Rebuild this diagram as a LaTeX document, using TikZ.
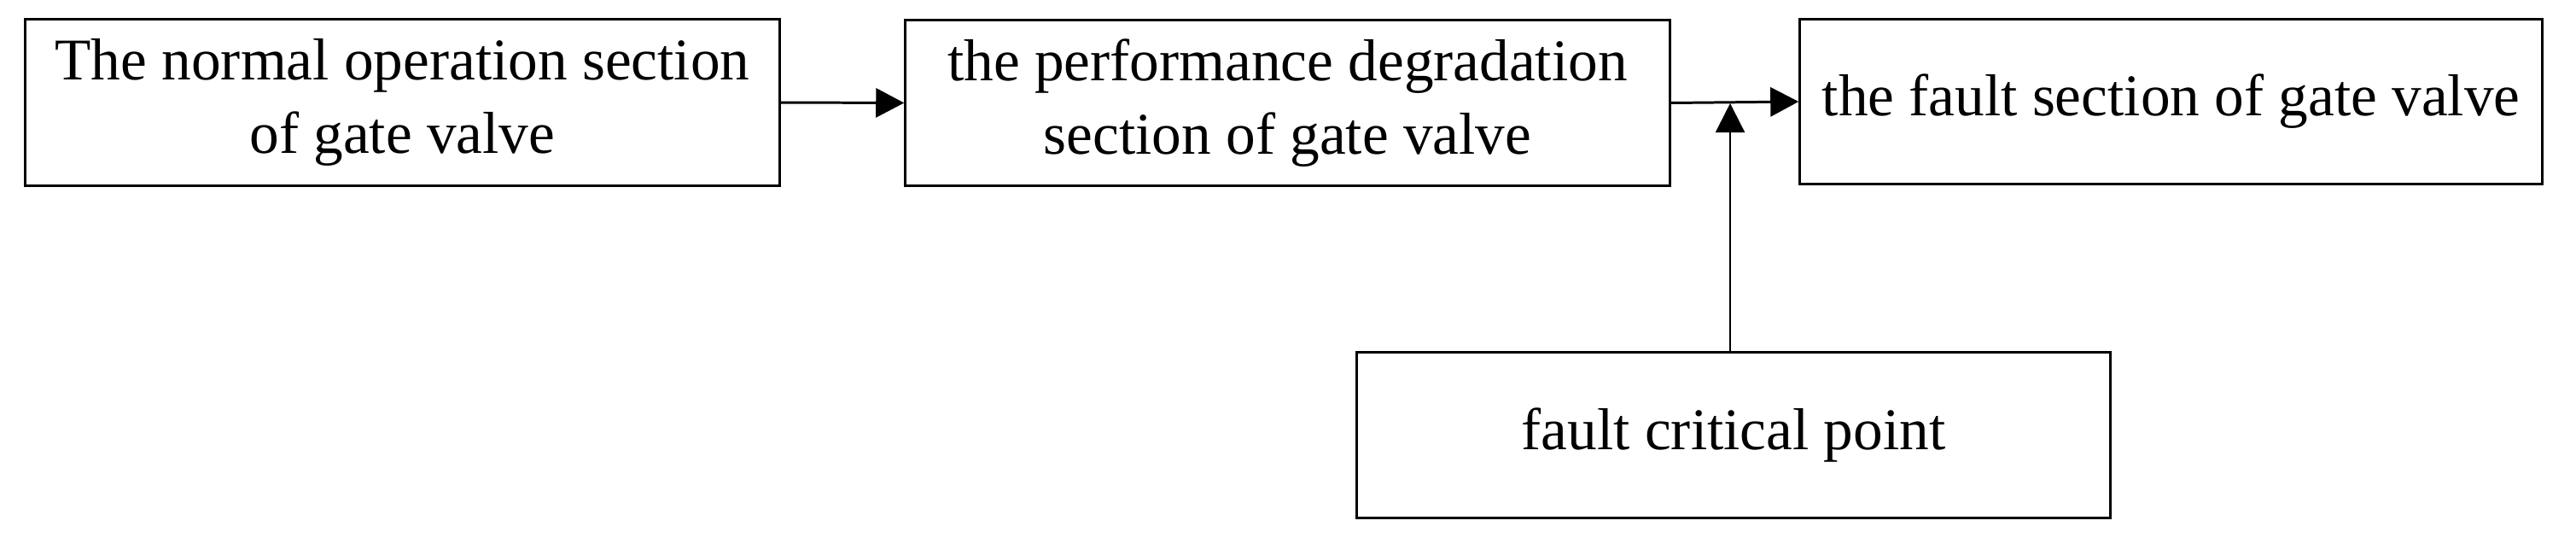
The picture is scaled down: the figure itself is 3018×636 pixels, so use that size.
\documentclass[tikz,border=0pt]{standalone}
\usepackage{fontspec}
\setmainfont{Liberation Serif}
\usetikzlibrary{arrows.meta}
\begin{document}
\begin{tikzpicture}[x=0.01cm,y=-0.01cm,
  box/.style={draw=black,line width=0.85pt,inner sep=0pt,align=center,
    font=\fontsize{19.7pt}{24.5pt}\selectfont},
  flow/.style={line width=0.85pt,-{Triangle[length=0.33cm,width=0.34cm]}},
  thin flow/.style={line width=0.6pt,-{Triangle[length=0.34cm,width=0.34cm]}}]
\useasboundingbox (0,0) rectangle (3018,636);
\node[box,minimum width=8.83cm,minimum height=1.94cm] (n1) at (471.5,120)
  {The normal operation section\\of gate valve};
\node[box,minimum width=8.95cm,minimum height=1.93cm] (n2) at (1508.5,120.5)
  {the performance degradation\\section of gate valve};
\node[box,minimum width=8.69cm,minimum height=1.92cm] (n3) at (2543.5,119)
  {the fault section of gate valve};
\node[box,minimum width=8.82cm,minimum height=1.93cm] (n4) at (2031,509.5)
  {fault critical point};
\coordinate (j) at (2027,121);
\draw[flow] (n1.east) -- (n2.west);
\draw[flow] (n2.east) -- (n3.west);
\draw[thin flow] (n4.north -| j) -- (j);
\end{tikzpicture}
\end{document}
